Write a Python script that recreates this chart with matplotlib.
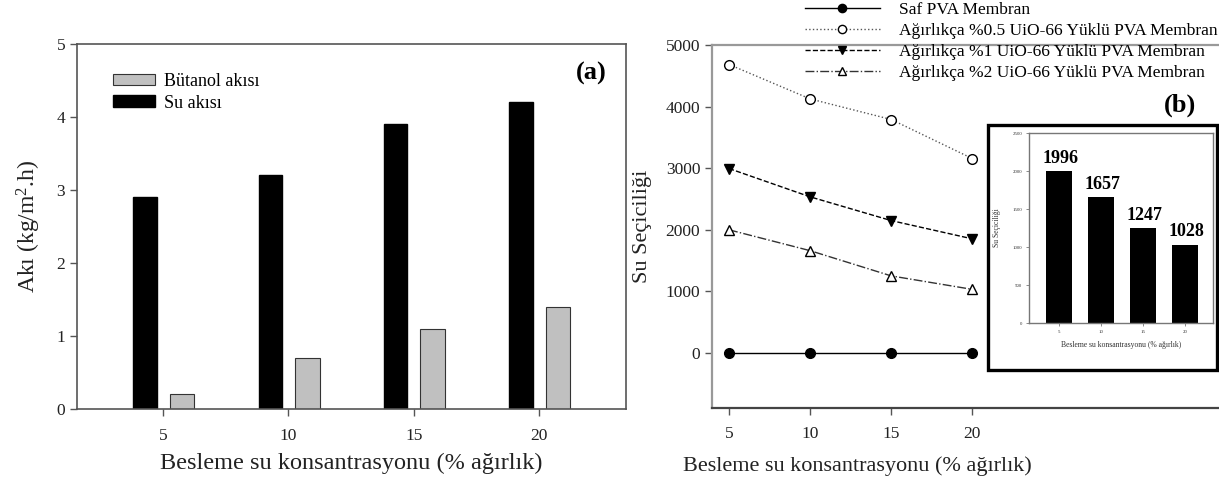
import matplotlib.pyplot as plt
from matplotlib.patches import Rectangle

plt.rcParams['font.family'] = ['Liberation Serif', 'DejaVu Serif']
plt.rcParams['mathtext.fontset'] = 'custom'
plt.rcParams['mathtext.rm'] = 'Liberation Serif'
plt.rcParams['mathtext.it'] = 'Liberation Serif:italic'

# data
conc = [5, 10, 15, 20]
su_aki = [2.9, 3.2, 3.9, 4.2]
butanol_aki = [0.2, 0.7, 1.1, 1.4]

saf_pva = [0, 0, 0, 0]
uio_05 = [4683, 4124, 3789, 3154]
uio_1 = [2992, 2532, 2146, 1849]
uio_2 = [1996, 1657, 1247, 1028]

inset_vals = [1996, 1657, 1247, 1028]
inset_labels = ['1996', '1657', '1247', '1028']

W, H = 1219, 486
fig = plt.figure(figsize=(W / 100, H / 100), dpi=100)


def px(x0, y0, x1, y1):
    # pixel box (top-left origin) -> figure fraction
    return [x0 / W, 1 - y1 / H, (x1 - x0) / W, (y1 - y0) / H]


# ---- (a) flux bars ----
ax1 = fig.add_axes(px(77, 44, 626, 409))
ax1.bar([c - 0.72 for c in conc], su_aki, width=0.93, color='black',
        edgecolor='black', label='Su akısı')
ax1.bar([c + 0.76 for c in conc], butanol_aki, width=0.98, color='#c0c0c0',
        edgecolor='#333333', linewidth=0.8, label='Bütanol akısı')
ax1.set_xlim(1.57, 23.47)
ax1.set_ylim(0, 5)
ax1.set_xticks(conc)
ax1.set_yticks(range(6))
for s in ax1.spines.values():
    s.set_color('#555555')
    s.set_linewidth(1.2)
ax1.tick_params(direction='out', length=5, width=1, colors='#555555',
                labelcolor='#222222', labelsize=12.5)
ax1.tick_params(axis='x', pad=9)
ax1.set_xlabel('Besleme su konsantrasyonu (% ağırlık)', fontsize=17.5,
               color='#222222', labelpad=6)
ax1.set_ylabel('Akı (kg/m$^2$.h)', fontsize=17, color='#222222', labelpad=10)
h, l = ax1.get_legend_handles_labels()
ax1.legend([h[1], h[0]], [l[1], l[0]], loc='upper left',
           bbox_to_anchor=(113 / W, 1 - 73 / H), bbox_transform=fig.transFigure,
           frameon=False, fontsize=13, handlelength=2.3, handleheight=0.6,
           handletextpad=0.55, labelspacing=0.25, borderpad=0, borderaxespad=0)
ax1.text(0.965, 0.92, '(a)', transform=ax1.transAxes, fontsize=19,
         fontweight='bold', ha='right', va='center')

# ---- (b) selectivity lines ----
ax2 = fig.add_axes(px(712, 45, 1240, 408))
ax2.plot(conc, saf_pva, '-', color='black', marker='o', markersize=7,
         linewidth=1, label='Saf PVA Membran')
ax2.plot(conc, uio_05, ':', color='#555555', marker='o', markersize=7,
         markerfacecolor='white', markeredgecolor='black', linewidth=1,
         label='Ağırlıkça %0.5 UiO-66 Yüklü PVA Membran')
ax2.plot(conc, uio_1, '--', color='black', marker='v', markersize=7,
         linewidth=1, label='Ağırlıkça %1 UiO-66 Yüklü PVA Membran')
ax2.plot(conc, uio_2, '-.', color='#333333', marker='^', markersize=7,
         markerfacecolor='white', markeredgecolor='black', linewidth=1,
         label='Ağırlıkça %2 UiO-66 Yüklü PVA Membran')
ax2.set_xlim(3.95, 36.5)
ax2.set_ylim(-900, 5000)
ax2.set_xticks(conc)
ax2.set_yticks(range(0, 5001, 1000))
ax2.spines['right'].set_visible(False)
ax2.spines['top'].set_color('#999999')
ax2.spines['left'].set_color('#999999')
ax2.spines['bottom'].set_color('#444444')
for s in ax2.spines.values():
    s.set_linewidth(1.6)
ax2.tick_params(direction='out', length=5, width=1, colors='#555555',
                labelcolor='#222222', labelsize=12.5)
ax2.tick_params(axis='x', pad=8)
fig.text(857 / W, 1 - 466 / H, 'Besleme su konsantrasyonu (% ağırlık)',
         fontsize=16, color='#222222', ha='center', va='center')
ax2.set_ylabel('Su Seçiciliği', fontsize=16, color='#222222', labelpad=10)
fig.legend(*ax2.get_legend_handles_labels(), loc='upper left',
           bbox_to_anchor=(805 / W, 1 - 2 / H), frameon=False, fontsize=12.5,
           handlelength=4.3, handletextpad=1.1, labelspacing=0.28,
           markerscale=0.85, borderpad=0, borderaxespad=0)
fig.text(1180 / W, 1 - 105 / H, '(b)', fontsize=19, fontweight='bold',
         ha='center', va='center')

# ---- inset ----
fig.add_artist(Rectangle((988 / W, 1 - 370 / H), 229 / W, 245 / H,
                         transform=fig.transFigure, fill=False,
                         edgecolor='black', linewidth=2.4, zorder=5))
ax3 = fig.add_axes(px(1029, 133, 1213, 323))
ax3.bar(conc, inset_vals, width=3.0, color='black')
for c, v, t in zip(conc, inset_vals, inset_labels):
    ax3.text(c + 0.2, v + 60, t, fontsize=13, fontweight='bold',
             ha='center', va='bottom')
ax3.set_xlim(1.43, 23.33)
ax3.set_ylim(0, 2500)
ax3.set_xticks(conc)
ax3.set_yticks(range(0, 2501, 500))
for s in ax3.spines.values():
    s.set_color('#777777')
    s.set_linewidth(1)
ax3.tick_params(direction='out', length=2, width=0.6, colors='#777777',
                labelcolor='#333333', labelsize=3.5, pad=3)
ax3.set_xlabel('Besleme su konsantrasyonu (% ağırlık)', fontsize=5.5,
               color='#333333', labelpad=5)
ax3.set_ylabel('Su Seçiciliği', fontsize=5.5, color='#333333', labelpad=8)

fig.savefig('out.png', dpi=100)
